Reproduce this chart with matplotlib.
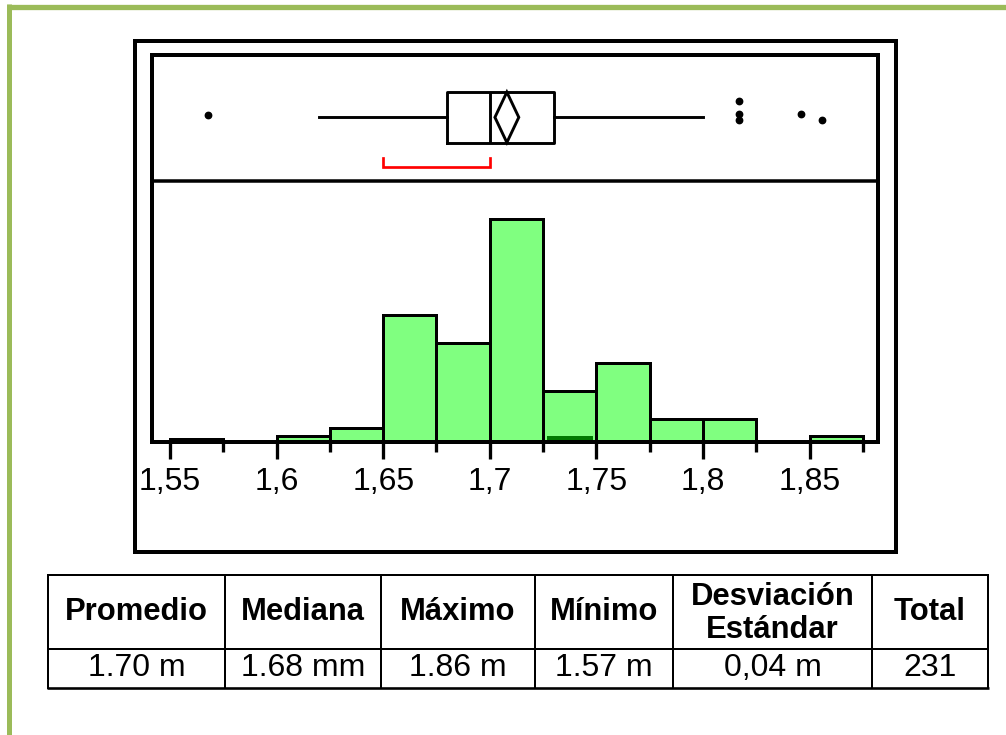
import matplotlib
matplotlib.use("Agg")
import matplotlib.pyplot as plt
from matplotlib.patches import Rectangle, Polygon
from matplotlib.lines import Line2D

# ---- data -------------------------------------------------------------
bin_left = [1.55, 1.60, 1.625, 1.65, 1.675, 1.70, 1.725, 1.75, 1.775, 1.80, 1.85]
counts = [1, 2, 5, 45, 35, 79, 18, 28, 8, 8, 2]
bin_width = 0.025

# selected rows shown in dark green at the bottom of one bar
highlight_left = [1.725]
highlight_counts = [2]

q1, median, q3 = 1.68, 1.70, 1.73
whisker_low, whisker_high = 1.62, 1.80
mean_value = 1.708
mean_ci_half = 0.0056
shortest_half = (1.65, 1.70)
outlier_x = [1.568, 1.817, 1.817, 1.817, 1.846, 1.856]
outlier_y = [0.52, 0.633, 0.529, 0.482, 0.527, 0.478]

tick_values = [1.55, 1.60, 1.65, 1.70, 1.75, 1.80, 1.85]
tick_labels = ["1,55", "1,6", "1,65", "1,7", "1,75", "1,8", "1,85"]
minor_values = [1.575, 1.625, 1.675, 1.725, 1.775, 1.825, 1.875]

table_headers = ["Promedio", "Mediana", "Máximo", "Mínimo",
                 "Desviación\nEstándar", "Total"]
table_values = ["1.70 m", "1.68 mm", "1.86 m", "1.57 m", "0,04 m", "231"]

# ---- layout helpers (pixel coordinates, origin top-left) ---------------
W, H = 1006, 735
fig = plt.figure(figsize=(W / 100, H / 100), dpi=100)
FONT = "Liberation Sans"
PT = 0.72  # points per pixel at 100 dpi


def fx(px):
    return px / W


def fy(py):
    return 1 - py / H


def rect(x0, y0, x1, y1):
    return [x0 / W, 1 - y1 / H, (x1 - x0) / W, (y1 - y0) / H]


def hline(x0, x1, y, lw, color="black"):
    fig.add_artist(Line2D([fx(x0), fx(x1)], [fy(y), fy(y)], lw=lw * PT,
                          color=color, transform=fig.transFigure,
                          solid_capstyle="butt"))


def vline(x, y0, y1, lw, color="black"):
    fig.add_artist(Line2D([fx(x), fx(x)], [fy(y0), fy(y1)], lw=lw * PT,
                          color=color, transform=fig.transFigure,
                          solid_capstyle="butt"))


X_LEFT, X_RIGHT = 152, 877.5
Y_TOP, Y_DIV, Y_BASE = 54.7, 180.7, 442
XLIM = (1.55 - (170 - X_LEFT) / 2132, 1.55 + (X_RIGHT - 170) / 2132)

# page border
green = "#9BBB59"
vline(9.2, 4, 735, 5, green)
hline(6.7, 1006, 6.7, 5.3, green)

# ---- histogram ---------------------------------------------------------
ax = fig.add_axes(rect(X_LEFT, Y_DIV, X_RIGHT, Y_BASE))
ax.bar(bin_left, counts, width=bin_width, align="edge", color="#80FF80",
       edgecolor="black", linewidth=3 * PT, zorder=2)
ax.bar([b + 0.0016 for b in highlight_left], highlight_counts,
       width=bin_width - 0.0032, align="edge", color="#007A00",
       linewidth=0, zorder=3)
ax.set_xlim(*XLIM)
ax.set_ylim(0, (Y_BASE - Y_DIV) / 2.82)
for s in ax.spines.values():
    s.set_visible(False)
ax.set_xticks(tick_values)
ax.set_xticklabels(tick_labels, fontfamily=FONT, fontsize=32 * PT)
ax.set_xticks(minor_values, minor=True)
ax.tick_params(axis="x", which="major", direction="out", length=17 * PT,
               width=3.3 * PT, pad=5.5, color="black")
ax.tick_params(axis="x", which="minor", direction="out", length=10 * PT,
               width=3.3 * PT, color="black")
ax.tick_params(axis="y", left=False, labelleft=False)
ax.patch.set_alpha(0)

# ---- box plot ----------------------------------------------------------
axb = fig.add_axes(rect(X_LEFT, Y_TOP, X_RIGHT, Y_DIV))
axb.set_xlim(*XLIM)
axb.set_ylim(0, 1)
axb.axis("off")
stats = [dict(med=median, q1=q1, q3=q3, whislo=whisker_low,
              whishi=whisker_high, fliers=[])]
line_kw = dict(color="black", linewidth=2.9 * PT)
axb.bxp(stats, positions=[0.503], widths=0.40, orientation="horizontal",
        showcaps=False, showfliers=False, boxprops=line_kw,
        whiskerprops=line_kw, medianprops=line_kw)
diamond = Polygon([(mean_value - mean_ci_half, 0.503), (mean_value, 0.703),
                   (mean_value + mean_ci_half, 0.503), (mean_value, 0.303)],
                  closed=True, fill=False, edgecolor="black",
                  linewidth=2.9 * PT)
axb.add_patch(diamond)
axb.plot(outlier_x, outlier_y, "o", color="black", markersize=4.6,
         linestyle="none")
lo, hi = shortest_half
axb.plot([lo, lo, hi, hi], [0.183, 0.109, 0.109, 0.183], color="red",
         linewidth=2.7 * PT, solid_joinstyle="miter")

# ---- frames ------------------------------------------------------------
fig.add_artist(Rectangle((fx(135.3), fy(552)), (896 - 135.3) / W,
                         (552 - 41) / H, fill=False, edgecolor="black",
                         linewidth=4 * PT, transform=fig.transFigure))
fig.add_artist(Rectangle((fx(X_LEFT), fy(Y_BASE)), (X_RIGHT - X_LEFT) / W,
                         (Y_BASE - Y_TOP) / H, fill=False, edgecolor="black",
                         linewidth=4 * PT, transform=fig.transFigure,
                         zorder=5))
hline(X_LEFT, X_RIGHT, Y_DIV, 3.5)

# ---- summary table -----------------------------------------------------
col_x = [48, 225, 381, 535, 673, 872, 988]
row_y = [575, 649, 688]
for x in col_x:
    vline(x, row_y[0] - 1, row_y[-1] + 1, 2)
hline(col_x[0] - 1, col_x[-1] + 1, row_y[0], 2)
hline(col_x[0] - 1, col_x[-1] + 1, row_y[1], 2)
hline(col_x[0] - 1, col_x[-1] + 1, row_y[2], 2.6)

for i, (head, val) in enumerate(zip(table_headers, table_values)):
    cx = (col_x[i] + col_x[i + 1]) / 2
    lines = head.split("\n")
    if len(lines) == 1:
        fig.text(fx(cx), fy(612), head, ha="center", va="center",
                 fontfamily=FONT, fontweight="bold", fontsize=31 * PT)
    else:
        for ln, y in zip(lines, (597, 630)):
            fig.text(fx(cx), fy(y), ln, ha="center", va="center",
                     fontfamily=FONT, fontweight="bold", fontsize=31 * PT)
    fig.text(fx(cx), fy(668.5), val, ha="center", va="center",
             fontfamily=FONT, fontsize=32 * PT)

fig.savefig("out.png", dpi=100)
